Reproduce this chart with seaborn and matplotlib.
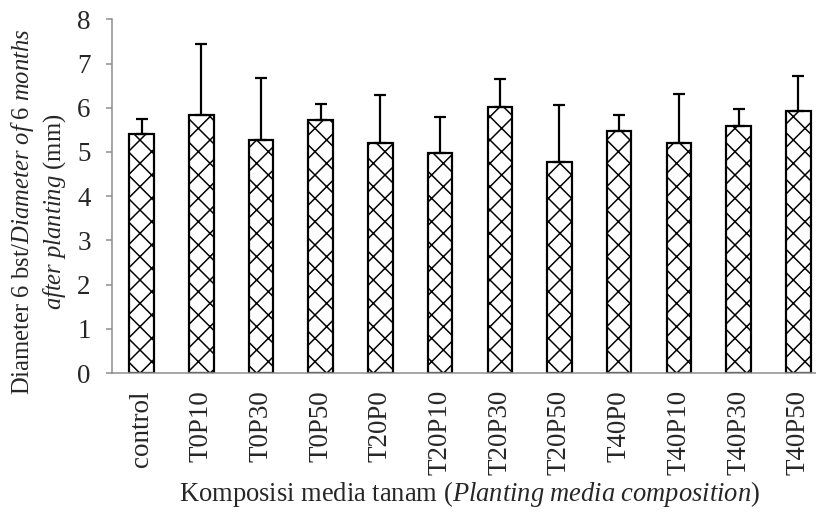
import matplotlib
matplotlib.use('Agg')
import matplotlib.pyplot as plt
import seaborn as sns
import pandas as pd

treatments = ['control', 'T0P10', 'T0P30', 'T0P50', 'T20P0', 'T20P10',
              'T20P30', 'T20P50', 'T40P0', 'T40P10', 'T40P30', 'T40P50']
diameter_mean = [5.41, 5.84, 5.27, 5.72, 5.21, 4.98, 6.01, 4.78, 5.47, 5.20, 5.59, 5.93]
diameter_sd = [0.34, 1.60, 1.40, 0.37, 1.08, 0.82, 0.64, 1.28, 0.37, 1.11, 0.39, 0.79]
y_ticks = [0, 1, 2, 3, 4, 5, 6, 7, 8]

# dpi 140 so that the 'xx' hatch gets roughly the spacing of the original
DPI = 140


def px(value: float) -> float:
    # pixels -> points at the figure dpi
    return value * 72 / DPI


def plot_diameter(data: pd.DataFrame) -> None:
    sns.set_style(style='ticks')
    plt.rcParams['font.family'] = ['Liberation Serif', 'DejaVu Serif']
    plt.rcParams['mathtext.fontset'] = 'custom'
    plt.rcParams['mathtext.rm'] = 'Liberation Serif'
    plt.rcParams['mathtext.it'] = 'Liberation Serif:italic'
    plt.rcParams['hatch.linewidth'] = px(1.5)
    plt.rcParams['hatch.color'] = '#222222'

    tick_size = px(27)
    label_size = px(26.5)

    fig = plt.figure(figsize=(816 / DPI, 513 / DPI), dpi=DPI)
    ax = fig.add_axes([0.1369, 0.2729, 0.878, 0.6895])

    sns.barplot(data=data, x='Treatment', y='Diameter', order=treatments,
                color='white', edgecolor='black', linewidth=px(2.2), width=0.41,
                errorbar=None, ax=ax)
    for bar in ax.patches:
        bar.set_hatch('xx')
        bar.set_facecolor('white')

    ax.errorbar(x=range(len(data)), y=data['Diameter'],
                yerr=[[0] * len(data), data['SD']],
                fmt='none', ecolor='black', elinewidth=px(2.2),
                capsize=px(6), capthick=px(2.2), zorder=3)

    ax.set_xlim(-0.5, len(treatments) - 0.5)
    ax.set_ylim(0, 8)
    ax.set_yticks(y_ticks)
    ax.tick_params(axis='y', labelsize=tick_size, color='#8c8c8c',
                   length=px(6), width=px(1.5), pad=px(15))
    ax.tick_params(axis='x', labelsize=tick_size, length=0, rotation=90, pad=px(17))

    for side in ['top', 'right']:
        ax.spines[side].set_visible(False)
    for side in ['left', 'bottom']:
        ax.spines[side].set_color('#8c8c8c')
        ax.spines[side].set_linewidth(px(1.5))

    ax.set_xlabel('Komposisi media tanam ($\\mathit{Planting\\ media\\ composition}$)',
                  fontsize=label_size)
    ax.xaxis.set_label_coords(0.5, -0.30)
    ax.set_ylabel('Diameter 6 bst/$\\mathit{Diameter\\ of\\ 6\\ months}$\n'
                  '$\\mathit{after\\ planting}$ (mm)', fontsize=px(24.6),
                  linespacing=1.25)
    ax.yaxis.set_label_coords(-0.061, 0.455)

    fig.savefig('out.png', dpi=DPI)
    plt.close(fig=fig)


if __name__ == '__main__':
    data = pd.DataFrame({'Treatment': treatments,
                         'Diameter': diameter_mean,
                         'SD': diameter_sd})
    plot_diameter(data=data)
